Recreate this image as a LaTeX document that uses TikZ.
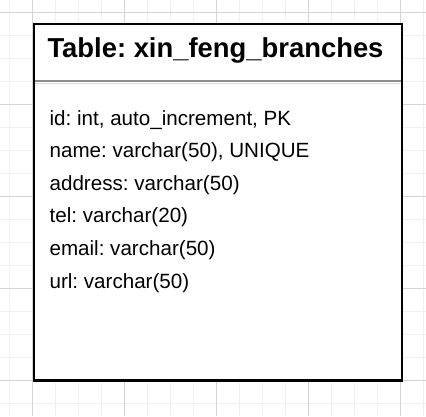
\documentclass[tikz,border=0pt]{standalone}
\usepackage{fontspec}
\setmainfont{Liberation Sans}
\frenchspacing
\definecolor{minorgray}{HTML}{F0F0F0}
\definecolor{majorgray}{HTML}{D4D4D4}
\definecolor{sepgray}{HTML}{8C8C8C}
\definecolor{shadegray}{HTML}{DADADA}

\begin{document}
\begin{tikzpicture}[x=1pt,y=-1pt,
  gridminor/.style={draw=minorgray,line width=1.2pt},
  gridmajor/.style={draw=majorgray,line width=1.2pt},
  field/.style={anchor=base west,inner sep=0pt,font=\fontsize{20.6}{24}\selectfont}]
\useasboundingbox (0,0) rectangle (426,416);

% background grid
\foreach \gx in {9.7,32.7,...,424} \draw[gridminor] (\gx,0) -- (\gx,416);
\foreach \gy in {12.3,35.3,...,416} \draw[gridminor] (0,\gy) -- (426,\gy);
\foreach \gx in {32.7,124.7,216.7,308.7,400.7} \draw[gridmajor] (\gx,0) -- (\gx,416);
\foreach \gy in {12.3,104.3,196.3,288.3,380.3} \draw[gridmajor] (0,\gy) -- (426,\gy);

% table box
\fill[white] (33.7,24) rectangle (401.7,380.5);
\draw[shadegray,line width=1.5pt] (34.8,83.6) -- (400.6,83.6);
\draw[sepgray,line width=2pt] (34.8,81) -- (400.6,81);
\draw[black,line width=2.2pt] (33.7,24) rectangle (401.7,380.5);

\node[anchor=base,inner sep=0pt,font=\fontsize{27.4}{30}\selectfont\bfseries] (title) at (215.5,57.3) {Table: xin\_feng\_branches};

\node[field] (fid) at (49.4,125) {id: int, auto\_increment, PK};
\node[field] (fname) at (49.4,157.6) {name: varchar(50), UNIQUE};
\node[field] (faddress) at (49.4,190.2) {address: varchar(50)};
\node[field] (ftel) at (49.4,222.8) {tel: varchar(20)};
\node[field] (femail) at (49.4,255.4) {email: varchar(50)};
\node[field] (furl) at (49.4,288) {url: varchar(50)};
\end{tikzpicture}
\end{document}
